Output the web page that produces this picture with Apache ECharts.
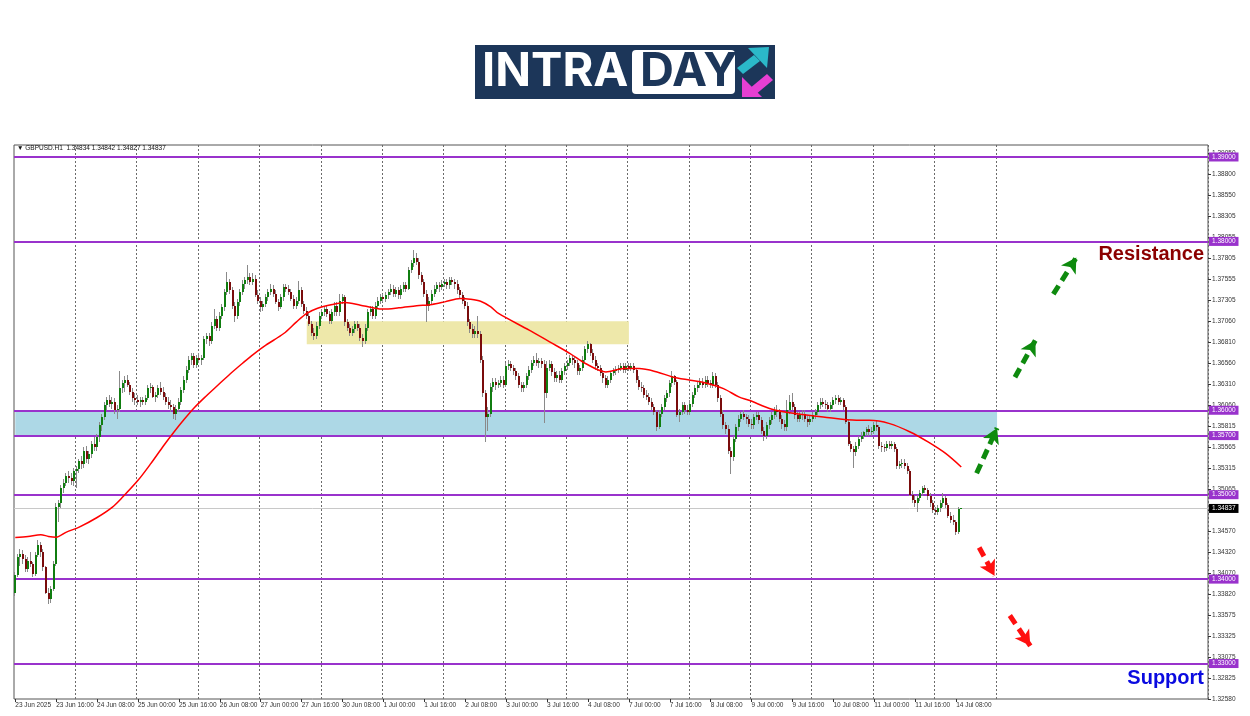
<!DOCTYPE html>
<html><head><meta charset="utf-8">
<script src="https://cdn.jsdelivr.net/npm/echarts@6/dist/echarts.min.js"></script>
<style>html,body{margin:0;padding:0;background:#fff}#c{width:1250px;height:716px}</style>
</head><body><div id="c"></div>
<script>
// ---- Candle data (GBPUSD H1, 23 Jun 2025 00:00 .. 14 Jul 2025 10:00), one line per trading day
const openP = [
1.3384,1.3405,1.3426,1.3430,1.3424,1.3412,1.3422,1.3418,1.3406,1.3428,1.3440,1.3432,1.3414,1.3384,1.3376,1.3388,1.3418,1.3486,1.3490,1.3508,1.3514,1.3522,1.3520,1.3516,
1.3528,1.3530,1.3540,1.3536,1.3552,1.3542,1.3548,1.3560,1.3556,1.3568,1.3582,1.3592,1.3606,1.3612,1.3608,1.3610,1.3600,1.3602,1.3626,1.3632,1.3636,1.3630,1.3622,1.3614,
1.3612,1.3610,1.3612,1.3610,1.3614,1.3626,1.3628,1.3616,1.3618,1.3626,1.3622,1.3616,1.3610,1.3606,1.3604,1.3596,1.3602,1.3610,1.3624,1.3636,1.3648,1.3660,1.3664,1.3654,
1.3662,1.3660,1.3662,1.3684,1.3688,1.3682,1.3700,1.3708,1.3698,1.3712,1.3722,1.3740,1.3752,1.3742,1.3724,1.3712,1.3728,1.3740,1.3750,1.3754,1.3758,1.3752,1.3756,1.3736,
1.3730,1.3722,1.3726,1.3734,1.3740,1.3744,1.3738,1.3728,1.3722,1.3734,1.3746,1.3744,1.3740,1.3732,1.3724,1.3730,1.3742,1.3726,1.3718,1.3712,1.3702,1.3692,1.3688,1.3700,
1.3712,1.3716,1.3720,1.3714,1.3706,1.3716,1.3724,1.3716,1.3730,1.3734,1.3704,1.3698,1.3692,1.3696,1.3702,1.3698,1.3686,1.3682,1.3698,1.3716,1.3720,1.3712,1.3724,1.3730,
1.3734,1.3732,1.3736,1.3740,1.3744,1.3738,1.3742,1.3736,1.3744,1.3748,1.3744,1.3766,1.3774,1.3780,1.3776,1.3760,1.3752,1.3738,1.3724,1.3730,1.3738,1.3744,1.3748,1.3746,
1.3750,1.3752,1.3748,1.3754,1.3752,1.3750,1.3742,1.3736,1.3730,1.3724,1.3704,1.3696,1.3690,1.3694,1.3690,1.3660,1.3620,1.3592,1.3596,1.3628,1.3634,1.3630,1.3632,1.3636,
1.3630,1.3652,1.3655,1.3650,1.3646,1.3640,1.3630,1.3626,1.3630,1.3640,1.3648,1.3656,1.3660,1.3656,1.3658,1.3655,1.3620,1.3650,1.3655,1.3645,1.3638,1.3642,1.3636,1.3646,
1.3652,1.3656,1.3662,1.3660,1.3656,1.3646,1.3650,1.3660,1.3672,1.3678,1.3668,1.3660,1.3652,1.3650,1.3644,1.3638,1.3630,1.3636,1.3644,1.3646,1.3648,1.3650,1.3652,1.3648,
1.3652,1.3650,1.3652,1.3648,1.3636,1.3628,1.3626,1.3618,1.3616,1.3610,1.3604,1.3598,1.3580,1.3596,1.3604,1.3614,1.3620,1.3632,1.3640,1.3634,1.3594,1.3598,1.3606,1.3600,
1.3598,1.3608,1.3618,1.3626,1.3630,1.3634,1.3630,1.3636,1.3632,1.3630,1.3640,1.3630,1.3614,1.3596,1.3582,1.3578,1.3552,1.3545,1.3566,1.3580,1.3590,1.3595,1.3592,1.3590,
1.3584,1.3582,1.3592,1.3594,1.3588,1.3576,1.3570,1.3582,1.3588,1.3594,1.3600,1.3598,1.3590,1.3584,1.3580,1.3600,1.3610,1.3604,1.3594,1.3590,1.3594,1.3596,1.3590,1.3586,
1.3590,1.3594,1.3598,1.3606,1.3610,1.3608,1.3606,1.3602,1.3606,1.3612,1.3614,1.3610,1.3612,1.3604,1.3586,1.3560,1.3554,1.3550,1.3558,1.3566,1.3570,1.3574,1.3578,1.3574,
1.3576,1.3582,1.3580,1.3558,1.3556,1.3555,1.3560,1.3558,1.3560,1.3554,1.3534,1.3536,1.3538,1.3534,1.3528,1.3500,1.3494,1.3490,1.3496,1.3502,1.3508,1.3506,1.3498,1.3490,
1.3482,1.3480,1.3484,1.3490,1.3496,1.3488,1.3475,1.3470,1.3468,1.3456,1.34834
];
const highP = [
1.3409,1.3430,1.3436,1.3434,1.3428,1.3426,1.3432,1.3420,1.3432,1.3446,1.3444,1.3436,1.3416,1.3390,1.3392,1.3422,1.3490,1.3494,1.3512,1.3518,1.3526,1.3528,1.3526,1.3532,
1.3534,1.3542,1.3546,1.3556,1.3558,1.3552,1.3564,1.3568,1.3572,1.3586,1.3596,1.3610,1.3616,1.3618,1.3616,1.3614,1.3606,1.3646,1.3636,1.3640,1.3642,1.3634,1.3626,1.3620,
1.3618,1.3616,1.3616,1.3618,1.3630,1.3632,1.3630,1.3622,1.3630,1.3634,1.3628,1.3620,1.3616,1.3612,1.3608,1.3606,1.3614,1.3628,1.3640,1.3652,1.3664,1.3668,1.3668,1.3666,
1.3668,1.3666,1.3688,1.3692,1.3692,1.3704,1.3720,1.3712,1.3716,1.3726,1.3744,1.3764,1.3756,1.3746,1.3728,1.3732,1.3744,1.3754,1.3758,1.3772,1.3762,1.3762,1.3760,1.3742,
1.3734,1.3730,1.3738,1.3744,1.3750,1.3748,1.3742,1.3732,1.3738,1.3750,1.3750,1.3748,1.3744,1.3736,1.3734,1.3753,1.3746,1.3730,1.3722,1.3716,1.3706,1.3698,1.3704,1.3716,
1.3720,1.3724,1.3724,1.3718,1.3720,1.3728,1.3728,1.3738,1.3738,1.3736,1.3708,1.3702,1.3700,1.3706,1.3706,1.3702,1.3690,1.3702,1.3720,1.3724,1.3724,1.3728,1.3734,1.3738,
1.3738,1.3740,1.3744,1.3750,1.3748,1.3746,1.3746,1.3748,1.3752,1.3752,1.3770,1.3778,1.3790,1.3786,1.3780,1.3764,1.3756,1.3742,1.3734,1.3742,1.3748,1.3752,1.3752,1.3754,
1.3756,1.3756,1.3758,1.3758,1.3756,1.3754,1.3746,1.3740,1.3734,1.3728,1.3708,1.3702,1.3700,1.3712,1.3694,1.3664,1.3624,1.3604,1.3632,1.3638,1.3638,1.3636,1.3640,1.3640,
1.3656,1.3660,1.3658,1.3654,1.3650,1.3644,1.3634,1.3634,1.3644,1.3652,1.3660,1.3664,1.3668,1.3662,1.3662,1.3660,1.3658,1.3660,1.3658,1.3650,1.3646,1.3646,1.3650,1.3656,
1.3660,1.3666,1.3666,1.3664,1.3660,1.3654,1.3664,1.3676,1.3682,1.3680,1.3672,1.3664,1.3656,1.3654,1.3648,1.3642,1.3640,1.3646,1.3650,1.3652,1.3654,1.3656,1.3656,1.3656,
1.3656,1.3656,1.3656,1.3650,1.3640,1.3634,1.3630,1.3624,1.3620,1.3614,1.3608,1.3600,1.3600,1.3608,1.3618,1.3624,1.3636,1.3646,1.3642,1.3636,1.3602,1.3610,1.3610,1.3606,
1.3612,1.3622,1.3630,1.3634,1.3638,1.3638,1.3640,1.3640,1.3636,1.3645,1.3644,1.3634,1.3618,1.3600,1.3586,1.3582,1.3556,1.3570,1.3584,1.3594,1.3598,1.3600,1.3596,1.3594,
1.3590,1.3596,1.3598,1.3598,1.3592,1.3580,1.3586,1.3592,1.3598,1.3604,1.3606,1.3602,1.3594,1.3588,1.3612,1.3618,1.3620,1.3608,1.3598,1.3598,1.3600,1.3600,1.3594,1.3594,
1.3598,1.3602,1.3610,1.3614,1.3614,1.3612,1.3610,1.3610,1.3616,1.3618,1.3618,1.3616,1.3614,1.3606,1.3588,1.3564,1.3558,1.3562,1.3570,1.3574,1.3576,1.3580,1.3582,1.3580,
1.3586,1.3588,1.3582,1.3562,1.3560,1.3564,1.3564,1.3564,1.3562,1.3556,1.3540,1.3542,1.3542,1.3538,1.3530,1.3504,1.3498,1.3500,1.3506,1.3510,1.3512,1.3508,1.3502,1.3494,
1.3486,1.3488,1.3494,1.3502,1.3498,1.3490,1.3480,1.3476,1.3470,1.3486,1.34842
];
const lowP = [
1.3380,1.3402,1.3416,1.3418,1.3408,1.3408,1.3414,1.3402,1.3404,1.3426,1.3426,1.3410,1.3382,1.3370,1.3372,1.3386,1.3416,1.3468,1.3484,1.3502,1.3510,1.3514,1.3512,1.3510,
1.3508,1.3526,1.3530,1.3532,1.3538,1.3536,1.3544,1.3552,1.3552,1.3562,1.3576,1.3588,1.3600,1.3604,1.3602,1.3596,1.3590,1.3598,1.3620,1.3622,1.3628,1.3618,1.3610,1.3606,
1.3606,1.3604,1.3606,1.3606,1.3612,1.3620,1.3614,1.3610,1.3614,1.3618,1.3612,1.3606,1.3602,1.3598,1.3590,1.3588,1.3598,1.3606,1.3620,1.3632,1.3644,1.3654,1.3650,1.3650,
1.3656,1.3654,1.3660,1.3678,1.3676,1.3678,1.3696,1.3694,1.3694,1.3708,1.3718,1.3736,1.3738,1.3720,1.3705,1.3708,1.3724,1.3736,1.3744,1.3750,1.3748,1.3748,1.3734,1.3726,
1.3716,1.3718,1.3722,1.3730,1.3736,1.3734,1.3726,1.3718,1.3720,1.3730,1.3740,1.3736,1.3730,1.3720,1.3720,1.3726,1.3722,1.3714,1.3708,1.3700,1.3688,1.3683,1.3684,1.3696,
1.3708,1.3712,1.3710,1.3702,1.3702,1.3712,1.3712,1.3712,1.3726,1.3700,1.3694,1.3688,1.3688,1.3692,1.3694,1.3682,1.3675,1.3678,1.3694,1.3712,1.3708,1.3708,1.3720,1.3726,
1.3728,1.3728,1.3732,1.3736,1.3734,1.3734,1.3732,1.3732,1.3740,1.3740,1.3742,1.3762,1.3770,1.3772,1.3756,1.3748,1.3734,1.3704,1.3718,1.3726,1.3734,1.3740,1.3740,1.3742,
1.3746,1.3744,1.3744,1.3748,1.3744,1.3738,1.3732,1.3726,1.3720,1.3700,1.3692,1.3686,1.3686,1.3686,1.3656,1.3616,1.3562,1.3575,1.3592,1.3622,1.3624,1.3626,1.3628,1.3626,
1.3628,1.3648,1.3646,1.3642,1.3636,1.3626,1.3622,1.3622,1.3626,1.3636,1.3644,1.3652,1.3652,1.3650,1.3650,1.3585,1.3615,1.3646,1.3640,1.3634,1.3634,1.3632,1.3632,1.3642,
1.3648,1.3652,1.3654,1.3650,1.3642,1.3642,1.3646,1.3656,1.3668,1.3664,1.3656,1.3648,1.3646,1.3640,1.3632,1.3626,1.3626,1.3632,1.3640,1.3642,1.3644,1.3646,1.3644,1.3644,
1.3646,1.3646,1.3644,1.3632,1.3624,1.3622,1.3614,1.3612,1.3606,1.3600,1.3594,1.3576,1.3578,1.3592,1.3600,1.3610,1.3616,1.3628,1.3630,1.3592,1.3586,1.3594,1.3596,1.3594,
1.3594,1.3604,1.3614,1.3622,1.3626,1.3626,1.3626,1.3628,1.3626,1.3626,1.3626,1.3610,1.3592,1.3578,1.3572,1.3548,1.3525,1.3540,1.3562,1.3576,1.3586,1.3588,1.3584,1.3580,
1.3578,1.3578,1.3588,1.3584,1.3572,1.3564,1.3566,1.3578,1.3584,1.3590,1.3592,1.3586,1.3578,1.3576,1.3576,1.3596,1.3600,1.3590,1.3586,1.3586,1.3588,1.3586,1.3580,1.3582,
1.3586,1.3590,1.3594,1.3602,1.3604,1.3602,1.3598,1.3598,1.3602,1.3608,1.3606,1.3606,1.3600,1.3584,1.3558,1.3550,1.3532,1.3546,1.3554,1.3562,1.3566,1.3570,1.3570,1.3570,
1.3572,1.3576,1.3554,1.3550,1.3550,1.3552,1.3554,1.3554,1.3550,1.3530,1.3530,1.3532,1.3530,1.3524,1.3498,1.3490,1.3486,1.3479,1.3492,1.3498,1.3502,1.3494,1.3486,1.3478,
1.3476,1.3476,1.3480,1.3486,1.3484,1.3472,1.3466,1.3464,1.3452,1.3454,1.34827
];
const closeP = [
1.3405,1.3426,1.3430,1.3424,1.3412,1.3422,1.3418,1.3406,1.3428,1.3440,1.3432,1.3414,1.3384,1.3376,1.3388,1.3418,1.3486,1.3490,1.3508,1.3514,1.3522,1.3520,1.3516,1.3528,
1.3530,1.3540,1.3536,1.3552,1.3542,1.3548,1.3560,1.3556,1.3568,1.3582,1.3592,1.3606,1.3612,1.3608,1.3610,1.3600,1.3602,1.3626,1.3632,1.3636,1.3630,1.3622,1.3614,1.3612,
1.3610,1.3612,1.3610,1.3614,1.3626,1.3628,1.3616,1.3618,1.3626,1.3622,1.3616,1.3610,1.3606,1.3604,1.3596,1.3602,1.3610,1.3624,1.3636,1.3648,1.3660,1.3664,1.3654,1.3662,
1.3660,1.3662,1.3684,1.3688,1.3682,1.3700,1.3708,1.3698,1.3712,1.3722,1.3740,1.3752,1.3742,1.3724,1.3712,1.3728,1.3740,1.3750,1.3754,1.3758,1.3752,1.3756,1.3736,1.3730,
1.3722,1.3726,1.3734,1.3740,1.3744,1.3738,1.3728,1.3722,1.3734,1.3746,1.3744,1.3740,1.3732,1.3724,1.3730,1.3742,1.3726,1.3718,1.3712,1.3702,1.3692,1.3688,1.3700,1.3712,
1.3716,1.3720,1.3714,1.3706,1.3716,1.3724,1.3716,1.3730,1.3734,1.3704,1.3698,1.3692,1.3696,1.3702,1.3698,1.3686,1.3682,1.3698,1.3716,1.3720,1.3712,1.3724,1.3730,1.3734,
1.3732,1.3736,1.3740,1.3744,1.3738,1.3742,1.3736,1.3744,1.3748,1.3744,1.3766,1.3774,1.3780,1.3776,1.3760,1.3752,1.3738,1.3724,1.3730,1.3738,1.3744,1.3748,1.3746,1.3750,
1.3752,1.3748,1.3754,1.3752,1.3750,1.3742,1.3736,1.3730,1.3724,1.3704,1.3696,1.3690,1.3694,1.3690,1.3660,1.3620,1.3592,1.3596,1.3628,1.3634,1.3630,1.3632,1.3636,1.3630,
1.3652,1.3655,1.3650,1.3646,1.3640,1.3630,1.3626,1.3630,1.3640,1.3648,1.3656,1.3660,1.3656,1.3658,1.3655,1.3620,1.3650,1.3655,1.3645,1.3638,1.3642,1.3636,1.3646,1.3652,
1.3656,1.3662,1.3660,1.3656,1.3646,1.3650,1.3660,1.3672,1.3678,1.3668,1.3660,1.3652,1.3650,1.3644,1.3638,1.3630,1.3636,1.3644,1.3646,1.3648,1.3650,1.3652,1.3648,1.3652,
1.3650,1.3652,1.3648,1.3636,1.3628,1.3626,1.3618,1.3616,1.3610,1.3604,1.3598,1.3580,1.3596,1.3604,1.3614,1.3620,1.3632,1.3640,1.3634,1.3594,1.3598,1.3606,1.3600,1.3598,
1.3608,1.3618,1.3626,1.3630,1.3634,1.3630,1.3636,1.3632,1.3630,1.3640,1.3630,1.3614,1.3596,1.3582,1.3578,1.3552,1.3545,1.3566,1.3580,1.3590,1.3595,1.3592,1.3590,1.3584,
1.3582,1.3592,1.3594,1.3588,1.3576,1.3570,1.3582,1.3588,1.3594,1.3600,1.3598,1.3590,1.3584,1.3580,1.3600,1.3610,1.3604,1.3594,1.3590,1.3594,1.3596,1.3590,1.3586,1.3590,
1.3594,1.3598,1.3606,1.3610,1.3608,1.3606,1.3602,1.3606,1.3612,1.3614,1.3610,1.3612,1.3604,1.3586,1.3560,1.3554,1.3550,1.3558,1.3566,1.3570,1.3574,1.3578,1.3574,1.3576,
1.3582,1.3580,1.3558,1.3556,1.3555,1.3560,1.3558,1.3560,1.3554,1.3534,1.3536,1.3538,1.3534,1.3528,1.3500,1.3494,1.3490,1.3496,1.3502,1.3508,1.3506,1.3498,1.3490,1.3482,
1.3480,1.3484,1.3490,1.3496,1.3488,1.3475,1.3470,1.3468,1.3456,1.3483,1.34837
];
// ---- Moving average (read at sample bars)
const maBars = [0,5,10,13,16,20,25,32,38,42,48,53,58,62,66,70,74,79,84,89,93,98,105,110,114,118,124,129,135,140,144,150,157,163,168,174,178,182,186,189,201,209,217,223,231,238,244,251,257,264,270,277,283,287,296,305,316,329,334,342,350,357,364,370];
const maValues = [1.34494,1.34506,1.34526,1.34506,1.34497,1.34557,1.34616,1.34730,1.34853,1.34972,1.35170,1.35368,1.35580,1.35740,1.35890,1.36030,1.36150,1.36290,1.36430,1.36560,1.36660,1.36771,1.36909,1.37047,1.37147,1.37206,1.37253,1.37277,1.37245,1.37213,1.37198,1.37213,1.37237,1.37253,1.37284,1.37324,1.37316,1.37292,1.37225,1.37147,1.36949,1.36810,1.36672,1.36554,1.36454,1.36494,1.36494,1.36454,1.36395,1.36356,1.36324,1.36257,1.36158,1.36118,1.36012,1.35961,1.35920,1.35881,1.35881,1.35842,1.35743,1.35625,1.35486,1.35328];
// ---- Axis labels
const barCount = 467;
const xTickLabels = ["23 Jun 2025","23 Jun 16:00","24 Jun 08:00","25 Jun 00:00","25 Jun 16:00","26 Jun 08:00","27 Jun 00:00","27 Jun 16:00","30 Jun 08:00","1 Jul 00:00","1 Jul 16:00","2 Jul 08:00","3 Jul 00:00","3 Jul 16:00","4 Jul 08:00","7 Jul 00:00","7 Jul 16:00","8 Jul 08:00","9 Jul 00:00","9 Jul 16:00","10 Jul 08:00","11 Jul 00:00","11 Jul 16:00","14 Jul 08:00"];
const yTickLabels = ["1.32580","1.32825","1.33075","1.33325","1.33575","1.33820","1.34070","1.34320","1.34570","1.34820","1.35065","1.35315","1.35565","1.35815","1.36060","1.36310","1.36560","1.36810","1.37060","1.37305","1.37555","1.37805","1.38055","1.38305","1.38550","1.38800","1.39050"];
// ---- Levels, zones, arrows
const levelLines = [1.39, 1.38, 1.36, 1.357, 1.35, 1.34, 1.33];
const lastPrice = 1.34837;
const blueZone = {from: 0, to: 384, low: 1.3570, high: 1.3600};
const yellowZone = {from: 114, to: 240, low: 1.36782, high: 1.37055};
const greenArrows = [[376, 1.35253, 384, 1.35790], [391, 1.36391, 399, 1.36830], [406, 1.37375, 415, 1.37810]];
const redArrows = [[377, 1.34375, 383, 1.34040], [389, 1.33569, 397, 1.33210]];

const yMin = 1.3258, yMax = 1.39142, yStep = 0.002488;
const fontSmall = '"Liberation Sans", Arial, sans-serif';

const candleData = openP.map((o, i) => [i, o, closeP[i], lowP[i], highP[i]]);
const maData = maBars.map((b, i) => [b, maValues[i]]);

function renderCandle(params, api) {
  const i = api.value(0), o = api.value(1), c = api.value(2), l = api.value(3), h = api.value(4);
  const pO = api.coord([i, o]), pC = api.coord([i, c]), pL = api.coord([i, l]), pH = api.coord([i, h]);
  const x = Math.round(pO[0]) - 1;
  const top = Math.round(Math.min(pO[1], pC[1]));
  const bot = Math.round(Math.max(pO[1], pC[1]));
  const up = c >= o;
  return {type: 'group', children: [
    {type: 'line', shape: {x1: x + 0.5, y1: Math.round(pH[1]), x2: x + 0.5, y2: Math.round(pL[1])}, style: {stroke: '#8a8a8a', lineWidth: 1}},
    {type: 'rect', shape: {x: x, y: top, width: 2, height: Math.max(1, bot - top)}, style: {fill: up ? '#107d10' : '#7a0c0c'}}
  ]};
}

function arrowLine(a, color) {
  return [{coord: [a[0], a[1]], symbol: 'none'}, {coord: [a[2], a[3]], symbol: 'arrow', symbolSize: [13, 15], lineStyle: {color: color}, itemStyle: {color: color}}];
}

const levelData = levelLines.map(v => ({
  yAxis: v,
  lineStyle: {color: '#9932cc', width: 2, type: 'solid'},
  label: {show: true, position: 'end', distance: 1, formatter: v.toFixed(5), backgroundColor: '#9932cc', color: '#fff', fontSize: 6.5, fontFamily: fontSmall, padding: [1, 3]}
}));
const priceData = [{
  yAxis: lastPrice,
  lineStyle: {color: '#c8c8c8', width: 1, type: 'solid'},
  label: {show: true, position: 'end', distance: 1, formatter: lastPrice.toFixed(5), backgroundColor: '#000000', color: '#ffffff', fontSize: 6.5, fontFamily: fontSmall, padding: [1, 3]}
}];

const chart = echarts.init(document.getElementById('c'), null, {renderer: 'canvas'});
chart.setOption({
  animation: false,
  backgroundColor: '#ffffff',
  grid: {left: 14, right: 42, top: 145, bottom: 17, show: true, borderColor: '#555', borderWidth: 1, backgroundColor: 'transparent'},
  xAxis: {
    type: 'category',
    data: Array.from({length: barCount}, (_, i) => String(i)),
    boundaryGap: true,
    axisLine: {show: false},
    axisTick: {show: true, alignWithLabel: true, length: 3, lineStyle: {color: '#333'}, interval: (idx) => idx % 16 === 0 && idx <= 368},
    axisLabel: {
      show: true, align: 'left', fontSize: 6.5, fontFamily: fontSmall, color: '#333', margin: 3,
      interval: (idx) => idx % 16 === 0 && idx <= 368,
      formatter: (v, idx) => xTickLabels[Math.round(Number(v) / 16)] || ''
    },
    splitLine: {show: true, interval: (idx) => idx % 24 === 0 && idx > 0 && idx <= 384, lineStyle: {color: '#6a6a6a', type: [2, 2], width: 1}}
  },
  yAxis: {
    type: 'value', position: 'right', min: yMin, max: yMax, interval: yStep, scale: true,
    axisLine: {show: false},
    axisTick: {show: true, length: 3, lineStyle: {color: '#333'}},
    splitLine: {show: false},
    axisLabel: {
      show: true, fontSize: 6.5, fontFamily: fontSmall, color: '#333', margin: 4, showMaxLabel: false,
      formatter: (v) => {
        const k = Math.round((v - yMin) / yStep);
        if (Math.abs(v - (yMin + k * yStep)) > yStep * 0.1) return '';
        return yTickLabels[k] || '';
      }
    }
  },
  series: [
    {
      type: 'line', name: 'zones', data: [], z: 1, silent: true,
      markArea: {
        silent: true,
        data: [
          [{coord: [blueZone.from, blueZone.high], itemStyle: {color: '#add8e6'}}, {coord: [blueZone.to, blueZone.low]}],
          [{coord: [yellowZone.from, yellowZone.high], itemStyle: {color: '#eee8aa'}}, {coord: [yellowZone.to, yellowZone.low]}]
        ]
      }
    },
    {
      type: 'line', name: 'priceLine', data: [], z: 2, silent: true,
      markLine: {silent: true, precision: 5, symbol: ['none', 'none'], data: priceData}
    },
    {
      type: 'custom', name: 'GBPUSD', renderItem: renderCandle, data: candleData, z: 5,
      encode: {x: 0, y: [1, 2, 3, 4]}
    },
    {
      type: 'line', name: 'MA', data: maData, z: 6, smooth: 0.3, symbol: 'none', silent: true,
      lineStyle: {color: '#ff0000', width: 1.5}
    },
    {
      type: 'line', name: 'levels', data: [], z: 7, silent: true,
      markLine: {silent: true, precision: 5, symbol: ['none', 'none'], data: levelData}
    },
    {
      type: 'line', name: 'arrows', data: [], z: 8, silent: true,
      markLine: {
        silent: true, precision: 5,
        lineStyle: {width: 5, type: [10, 6]},
        label: {show: false},
        data: greenArrows.map(a => arrowLine(a, '#0e8a0e')).concat(redArrows.map(a => arrowLine(a, '#ff1010')))
      }
    }
  ],
  graphic: [
    {type: 'text', left: 17, top: 145, z: 20, style: {text: '\u25BC GBPUSD.H1  1.34834 1.34842 1.34827 1.34837', font: '6.5px ' + fontSmall, fill: '#111'}},
    {type: 'text', right: 46, top: 244, z: 20, style: {text: 'Resistance', font: 'bold 20px ' + fontSmall, fill: '#8b0000'}},
    {type: 'text', right: 46, top: 668, z: 20, style: {text: 'Support', font: 'bold 20px ' + fontSmall, fill: '#0a0ae0'}},
    {type: 'group', left: 475, top: 45, z: 30, children: [
      {type: 'rect', shape: {x: 0, y: 0, width: 300, height: 54}, style: {fill: '#1c3659'}},
      {type: 'text', x: 7, y: 27, style: {text: 'INTRA', font: 'bold 47px Inter, "Open Sans", sans-serif', fill: '#fff', verticalAlign: 'middle'}},
      {type: 'rect', shape: {x: 157, y: 5, width: 103, height: 44, r: 4}, style: {fill: '#fff'}},
      {type: 'text', x: 165, y: 27, style: {text: 'DAY', font: 'bold 47px Inter, "Open Sans", sans-serif', fill: '#1c3659', verticalAlign: 'middle'}},
      {type: 'polygon', shape: {points: [[262, 23], [268, 29], [285, 16], [279, 10]]}, style: {fill: '#2bb8c9'}},
      {type: 'polygon', shape: {points: [[273, 3], [294, 2], [292, 23]]}, style: {fill: '#2bb8c9'}},
      {type: 'polygon', shape: {points: [[274, 44], [280, 50], [298, 35], [292, 29]]}, style: {fill: '#e63fd3'}},
      {type: 'polygon', shape: {points: [[267, 32], [267, 52], [287, 52]]}, style: {fill: '#e63fd3'}}
    ]}
  ]
});
</script>
</body></html>
